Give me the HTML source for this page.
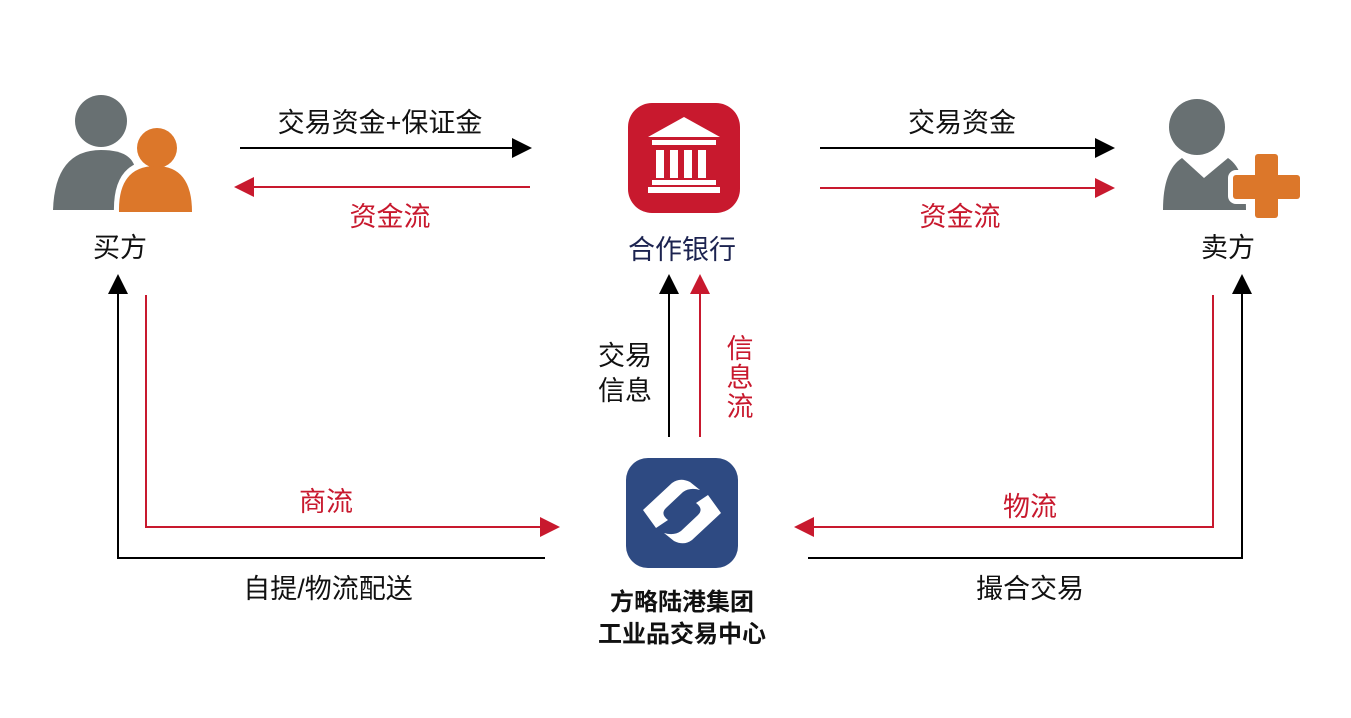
<!DOCTYPE html>
<html><head><meta charset="utf-8"><style>
body{margin:0;background:#fff;}
svg text{font-family:"Liberation Sans","Noto Sans CJK SC",sans-serif;}
</style></head><body>
<svg width="1351" height="713" viewBox="0 0 1351 713" xmlns="http://www.w3.org/2000/svg">
<defs>
<marker id="ab" viewBox="0 0 10 10" refX="9" refY="5" markerWidth="22" markerHeight="20" markerUnits="userSpaceOnUse" orient="auto"><path d="M0,0 L10,5 L0,10z" fill="#000"/></marker>
<marker id="ar" viewBox="0 0 10 10" refX="9" refY="5" markerWidth="22" markerHeight="20" markerUnits="userSpaceOnUse" orient="auto"><path d="M0,0 L10,5 L0,10z" fill="#c8192e"/></marker>
</defs>
<!-- buyer icon -->
<circle cx="101" cy="121" r="26" fill="#687072"/>
<path d="M53,210 Q55,150 101,150 Q140,150 135,180 L120,210 Z" fill="#687072"/>
<circle cx="157" cy="148" r="24" fill="#fff"/>
<path d="M114,214 Q112,160 156,160 Q198,162 196,214 Z" fill="#fff"/>
<circle cx="157" cy="148" r="20" fill="#dc772a"/>
<path d="M119,212 Q118,166 156,166 Q192,166 192,212 Z" fill="#dc772a"/>
<!-- seller icon -->
<circle cx="1197" cy="127" r="28" fill="#687072"/>
<path d="M1163,210 Q1163,170 1182,158 L1204,178 L1228,158 Q1246,170 1246,210 Z" fill="#687072"/>
<rect x="1228" y="170" width="78" height="34" rx="8" fill="#fff"/>
<rect x="1233" y="175" width="67" height="24" rx="3" fill="#dc772a"/>
<rect x="1255" y="154" width="23" height="64" rx="3" fill="#dc772a"/>
<!-- bank -->
<rect x="628" y="103" width="112" height="110" rx="24" fill="#c8192e"/>
<path d="M684,117 L720,137 L648,137 Z" fill="#fff"/>
<rect x="652" y="140" width="64" height="5" fill="#fff"/>
<rect x="656" y="150" width="8" height="28" fill="#fff"/><rect x="670" y="150" width="8" height="28" fill="#fff"/>
<rect x="684" y="150" width="8" height="28" fill="#fff"/><rect x="698" y="150" width="8" height="28" fill="#fff"/>
<rect x="652" y="180" width="64" height="5" fill="#fff"/>
<rect x="648" y="187" width="72" height="6" fill="#fff"/>
<!-- platform logo -->
<rect x="626" y="458" width="112" height="110" rx="22" fill="#2e4a82"/>
<path d="M643,510 L672,483 Q680,477 690,482 L700,490 Q690,487 683,492 L666,508 Q660,514 668,520 L656,528 Z" fill="#fff"/>
<path d="M721,513 L692,540 Q684,546 674,541 L664,533 Q674,536 681,531 L698,515 Q704,509 696,503 L708,495 Z" fill="#fff"/>
<!-- top arrows -->
<line x1="240" y1="148" x2="530" y2="148" stroke="#000" stroke-width="2" marker-end="url(#ab)"/>
<line x1="530" y1="187" x2="236" y2="187" stroke="#c8192e" stroke-width="2" marker-end="url(#ar)"/>
<line x1="820" y1="148" x2="1113" y2="148" stroke="#000" stroke-width="2" marker-end="url(#ab)"/>
<line x1="820" y1="188" x2="1113" y2="188" stroke="#c8192e" stroke-width="2" marker-end="url(#ar)"/>
<!-- center vertical -->
<line x1="669" y1="437" x2="669" y2="276" stroke="#000" stroke-width="2" marker-end="url(#ab)"/>
<line x1="700" y1="437" x2="700" y2="276" stroke="#c8192e" stroke-width="2" marker-end="url(#ar)"/>
<!-- left -->
<polyline points="545,558 118,558 118,276" fill="none" stroke="#000" stroke-width="2" marker-end="url(#ab)"/>
<polyline points="146,295 146,527 558,527" fill="none" stroke="#c8192e" stroke-width="2" marker-end="url(#ar)"/>
<!-- right -->
<polyline points="1213,295 1213,527 796,527" fill="none" stroke="#c8192e" stroke-width="2" marker-end="url(#ar)"/>
<polyline points="808,558 1242,558 1242,276" fill="none" stroke="#000" stroke-width="2" marker-end="url(#ab)"/>
<!-- labels -->
<g font-size="27" text-anchor="middle">
<text x="380" y="132" fill="#111">交易资金+保证金</text>
<text x="390" y="226" fill="#c8192e">资金流</text>
<text x="962" y="132" fill="#111">交易资金</text>
<text x="960" y="226" fill="#c8192e">资金流</text>
<text x="120" y="257" fill="#111">买方</text>
<text x="682" y="259" fill="#1c2350">合作银行</text>
<text x="1228" y="257" fill="#111">卖方</text>
<text x="625" y="365" fill="#111">交易</text>
<text x="625" y="400" fill="#111">信息</text>
<text x="740" y="358" fill="#c8192e">信</text>
<text x="740" y="387" fill="#c8192e">息</text>
<text x="740" y="416" fill="#c8192e">流</text>
<text x="326" y="511" fill="#c8192e">商流</text>
<text x="1030" y="516" fill="#c8192e">物流</text>
<text x="328" y="598" fill="#111">自提/物流配送</text>
<text x="1030" y="598" fill="#111">撮合交易</text>
<text x="682" y="610" font-weight="bold" font-size="24" fill="#111">方略陆港集团</text>
<text x="682" y="642" font-weight="bold" font-size="24" fill="#111">工业品交易中心</text>
</g>
</svg>
</body></html>
